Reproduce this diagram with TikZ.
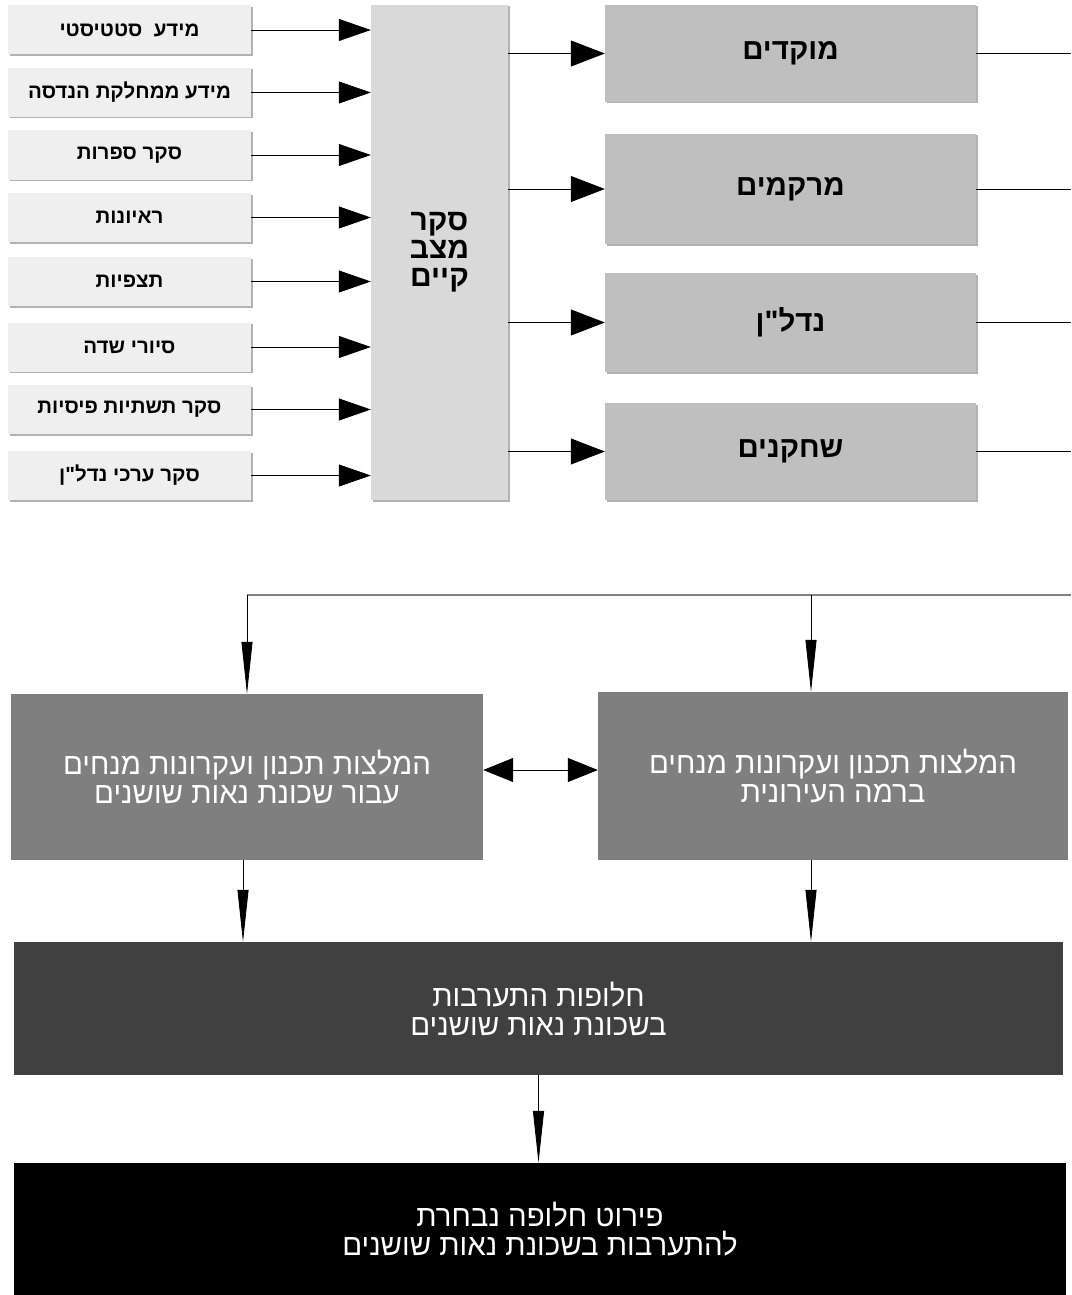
\documentclass[tikz,border=0pt]{standalone}
\usepackage{fontspec}
\usetikzlibrary{arrows.meta,shadows}
\TeXXeTstate=1
\newfontfamily\hebfont[Script=Hebrew]{Liberation Sans}
\newfontfamily\hebnarrow[Script=Hebrew,FakeStretch=0.98]{Liberation Sans}
\newcommand{\heb}[1]{\beginR #1\endR}
\definecolor{srcgray}{HTML}{EFEFEF}
\definecolor{midgray}{HTML}{D9D9D9}
\definecolor{topicgray}{HTML}{BFBFBF}
\definecolor{recgray}{HTML}{7F7F7F}
\definecolor{altgray}{HTML}{404040}
\begin{document}
\begin{tikzpicture}[x=1pt,y=-1pt]
\tikzset{src style/.style={fill=srcgray, inner sep=0pt, minimum width=243pt, minimum height=49pt,
            font=\hebfont\bfseries\fontsize{20.5}{22}\selectfont,
            drop shadow={shadow xshift=1.5pt, shadow yshift=-1.5pt, fill=black!30, opacity=1}},
         topic style/.style={fill=topicgray, inner sep=0pt, minimum width=371pt,
            font=\hebfont\bfseries\fontsize{29.5}{30}\selectfont,
            drop shadow={shadow xshift=1.5pt, shadow yshift=-1.5pt, fill=black!30, opacity=1}},
         box style/.style={inner sep=0pt, text=white, align=center,
            font=\hebnarrow\fontsize{30}{29}\selectfont}}
\useasboundingbox (0,0) rectangle (1071,1295);

\node[src style] at (129.5, 30)    (s1) {\heb{מידע\ \ סטטיסטי}};
\node[src style] at (129.5, 92.5)  (s2) {\heb{מידע ממחלקת הנדסה}};
\node[src style] at (129.5, 155)   (s3) {\heb{סקר ספרות}};
\node[src style] at (129.5, 217.5) (s4) {\heb{ראיונות}};
\node[src style] at (129.5, 281.5) (s5) {\heb{תצפיות}};
\node[src style] at (129.5, 347)   (s6) {\heb{סיורי שדה}};
\node[src style] at (129.5, 409.5) (s7) {\heb{סקר תשתיות פיסיות}};
\node[src style] at (129.5, 475.5) (s8) {\heb{סקר ערכי נדל"ן}};

\node[fill=midgray, inner sep=0pt, minimum width=137pt, minimum height=495pt, align=center,
      font=\hebfont\bfseries\fontsize{30}{28}\selectfont,
      drop shadow={shadow xshift=1.5pt, shadow yshift=-1.5pt, fill=black!30, opacity=1}]
      at (439.5, 252.5) (sk) {\heb{סקר}\\\heb{מצב}\\\heb{קיים}};

\node[topic style, minimum height=97pt]  at (790.5, 53.5)  (r1) {\heb{מוקדים}};
\node[topic style, minimum height=110pt] at (790.5, 189)   (r2) {\heb{מרקמים}};
\node[topic style, minimum height=99pt]  at (790.5, 322.5) (r3) {\heb{נדל"ן}};
\node[topic style, minimum height=97pt]  at (790.5, 451.5) (r4) {\heb{שחקנים}};

\node[box style, fill=recgray, minimum width=472pt, minimum height=166pt] at (247, 777) (m1)
      {\heb{המלצות תכנון ועקרונות מנחים}\\\heb{עבור שכונת נאות שושנים}};
\node[box style, fill=recgray, minimum width=470pt, minimum height=168pt] at (833, 776) (m2)
      {\heb{המלצות תכנון ועקרונות מנחים}\\\heb{ברמה העירונית}};
\node[box style, fill=altgray, minimum width=1049pt, minimum height=133pt] at (538.5, 1008.5) (alt)
      {\heb{חלופות התערבות}\\\heb{בשכונת נאות שושנים}};
\node[box style, fill=black, minimum width=1052pt, minimum height=132pt] at (540, 1229) (sel)
      {\heb{פירוט חלופה נבחרת}\\\heb{להתערבות בשכונת נאות שושנים}};

\coordinate (busend) at (1071, 595);

\draw[line width=0.8pt, >={Triangle[length=32pt,width=22pt]}]
            (s1.east)   edge[->]    (s1.east -| sk.west)
            (s2.east)   edge[->]    (s2.east -| sk.west)
            (s3.east)   edge[->]    (s3.east -| sk.west)
            (s4.east)   edge[->]    (s4.east -| sk.west)
            (s5.east)   edge[->]    (s5.east -| sk.west)
            (s6.east)   edge[->]    (s6.east -| sk.west)
            (s7.east)   edge[->]    (s7.east -| sk.west)
            (s8.east)   edge[->]    (s8.east -| sk.west)
;
\draw[line width=0.8pt, >={Triangle[length=34pt,width=26pt]}]
            (r1.west -| sk.east)   edge[->]    (r1.west)
            (r2.west -| sk.east)   edge[->]    (r2.west)
            (r3.west -| sk.east)   edge[->]    (r3.west)
            (r4.west -| sk.east)   edge[->]    (r4.west)
;
\draw[line width=0.8pt]
            (r1.east)   edge    (r1.east -| busend)
            (r2.east)   edge    (r2.east -| busend)
            (r3.east)   edge    (r3.east -| busend)
            (r4.east)   edge    (r4.east -| busend)
;
\draw[line width=2pt, black!50] (busend) -- (m1.north |- busend);
\draw[line width=0.8pt, >={Triangle[length=52pt,width=11pt]}]
            (m1.north |- busend)                edge[->]    (m1.north)
            ([xshift=-22pt]m2.north |- busend)  edge[->]    ([xshift=-22pt]m2.north)
            ([xshift=-4pt]m1.south)             edge[->]    ([xshift=-4pt]m1.south |- alt.north)
            ([xshift=-22pt]m2.south)            edge[->]    ([xshift=-22pt]m2.south |- alt.north)
            (alt.south)                         edge[->]    (alt.south |- sel.north)
;
\draw[line width=0.8pt, >={Triangle[length=30pt,width=24pt]}, <->]
            ([yshift=7pt]m1.east) -- ([yshift=7pt]m1.east -| m2.west);
\end{tikzpicture}
\end{document}
